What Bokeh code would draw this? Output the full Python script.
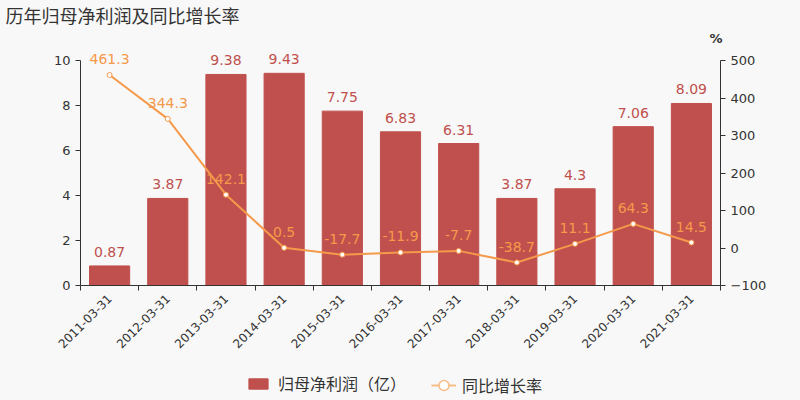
import math
from bokeh.plotting import figure
from bokeh.layouts import column
from bokeh.models import (Range1d, LinearAxis, FixedTicker, ColumnDataSource, Title,
                          Legend, LegendItem)
from bokeh.core.properties import value
from bokeh.embed import file_html
from bokeh.resources import INLINE

categories = ["2011-03-31", "2012-03-31", "2013-03-31", "2014-03-31", "2015-03-31",
              "2016-03-31", "2017-03-31", "2018-03-31", "2019-03-31", "2020-03-31",
              "2021-03-31"]
profit = [0.87, 3.87, 9.38, 9.43, 7.75, 6.83, 6.31, 3.87, 4.3, 7.06, 8.09]
growth = [461.3, 344.3, 142.1, 0.5, -17.7, -11.9, -7.7, -38.7, 11.1, 64.3, 14.5]
left_ticks = [0, 2, 4, 6, 8, 10]
right_ticks = [-100, 0, 100, 200, 300, 400, 500]

NUMFONT = "DejaVu Sans"
CJK = "DejaVu Sans, Noto Sans CJK SC"
BAR = "#c0504d"
LINE = "#f5994b"
LINE_LIGHT = "#f8bd86"
TXT = "#333333"
BG = "#f8f8f8"

n = len(categories)
centers = [i + 0.5 for i in range(n)]
src = ColumnDataSource(dict(
    x=centers, profit=profit, growth=growth,
    plabel=[f"{v:g}" for v in profit],
    glabel=[f"{v:g}" for v in growth],
))

# frame extends 15px above the axes' top so labels are not clipped
EXTRA_PX = 15
AX_PX = 225
y_top = left_ticks[-1] + EXTRA_PX * (left_ticks[-1] - left_ticks[0]) / AX_PX
pct_top = right_ticks[-1] + EXTRA_PX * (right_ticks[-1] - right_ticks[0]) / AX_PX

p = figure(width=800, height=365, output_backend="svg", toolbar_location=None,
           x_range=Range1d(0, n), y_range=Range1d(left_ticks[0], y_top),
           min_border_left=80, min_border_right=80, min_border_top=45,
           min_border_bottom=80, y_axis_location=None, x_axis_location=None,
           title="历年归母净利润及同比增长率")
p.background_fill_color = BG
p.border_fill_color = BG
p.outline_line_color = None
p.xgrid.visible = False
p.ygrid.visible = False
p.extra_y_ranges = {"pct": Range1d(right_ticks[0], pct_top)}

p.title.text_font = CJK
p.title.text_font_size = "18px"
p.title.text_color = TXT
p.title.text_font_style = "normal"
p.title.align = "left"
p.title.offset = -75
p.title.standoff = 4

pct_title = Title(text="%", align="right", text_font=NUMFONT, text_font_size="13px",
                  text_color=TXT, text_font_style="bold", offset=-2, standoff=0)
p.add_layout(pct_title, "above")


def style_axis(ax):
    ax.axis_line_color = TXT
    ax.major_tick_line_color = TXT
    ax.minor_tick_line_color = TXT
    ax.major_label_text_color = TXT
    ax.major_label_text_font = NUMFONT
    ax.major_label_text_font_size = "13px"
    ax.major_tick_in = 0
    ax.major_tick_out = 5
    ax.minor_tick_in = 0
    ax.minor_tick_out = 0


xa = LinearAxis(ticker=FixedTicker(ticks=centers, minor_ticks=list(range(n + 1))))
style_axis(xa)
xa.major_label_overrides = {c: lab for c, lab in zip(centers, categories)}
xa.major_tick_out = 0
xa.minor_tick_out = 5
xa.major_label_orientation = math.pi / 4
xa.major_label_text_font_size = "12px"
xa.major_label_standoff = 6
p.add_layout(xa, "below")

ya = LinearAxis(ticker=FixedTicker(ticks=left_ticks),
                bounds=(left_ticks[0], left_ticks[-1]))
style_axis(ya)
p.add_layout(ya, "left")

ya2 = LinearAxis(y_range_name="pct", ticker=FixedTicker(ticks=right_ticks),
                 bounds=(right_ticks[0], right_ticks[-1]))
style_axis(ya2)
p.add_layout(ya2, "right")

p.vbar(x="x", top="profit", width=0.69, source=src, fill_color=BAR, line_color=BAR)
p.text(x="x", y="profit", text="plabel", source=src, text_align="center",
       text_baseline="bottom", y_offset=-9, text_color=BAR,
       text_font=value(NUMFONT), text_font_size="14px")

p.line(x="x", y="growth", source=src, y_range_name="pct", line_color=LINE,
       line_width=2)
p.scatter(x="x", y="growth", source=src, y_range_name="pct", size=5,
          marker="circle", fill_color="white", line_color=LINE, line_width=1)
p.text(x="x", y="growth", text="glabel", source=src, y_range_name="pct",
       text_align="center", text_baseline="bottom", y_offset=-11, text_color=LINE,
       text_font=value(NUMFONT), text_font_size="14px")

# ---- legend strip ----
lg = figure(width=800, height=35, output_backend="svg", toolbar_location=None,
            x_range=Range1d(0, 1), y_range=Range1d(0, 1), min_border=0,
            x_axis_location=None, y_axis_location=None)
lg.background_fill_color = BG
lg.border_fill_color = BG
lg.outline_line_color = None
lg.xgrid.visible = False
lg.ygrid.visible = False

nan = float("nan")
leg_bar = lg.vbar(x=[nan], top=[nan], width=0.5, fill_color=BAR, line_color=BAR,
                  border_radius=4)
leg_ln = lg.line(x=[nan, nan], y=[nan, nan], line_color=LINE_LIGHT, line_width=2)
leg_mk = lg.scatter(x=[nan], y=[nan], size=11, marker="circle", fill_color="white",
                    line_color=LINE_LIGHT, line_width=1.5)

common = dict(orientation="horizontal", background_fill_alpha=0,
              border_line_color=None, label_text_font=CJK,
              label_text_font_size="16px", label_text_color=TXT,
              padding=0, margin=0, spacing=0)
legend1 = Legend(items=[LegendItem(label="归母净利润（亿）", renderers=[leg_bar])],
                 location=(166, 5), glyph_width=24, glyph_height=13,
                 label_standoff=8, **common)
legend2 = Legend(items=[LegendItem(label="同比增长率", renderers=[leg_ln, leg_mk])],
                 location=(351, 2), glyph_width=25, glyph_height=26,
                 label_standoff=6, **common)
lg.add_layout(legend1, "center")
lg.add_layout(legend2, "center")

layout = column(p, lg, spacing=0, styles={"background-color": BG})
open("out.html", "w").write(file_html(layout, INLINE))
